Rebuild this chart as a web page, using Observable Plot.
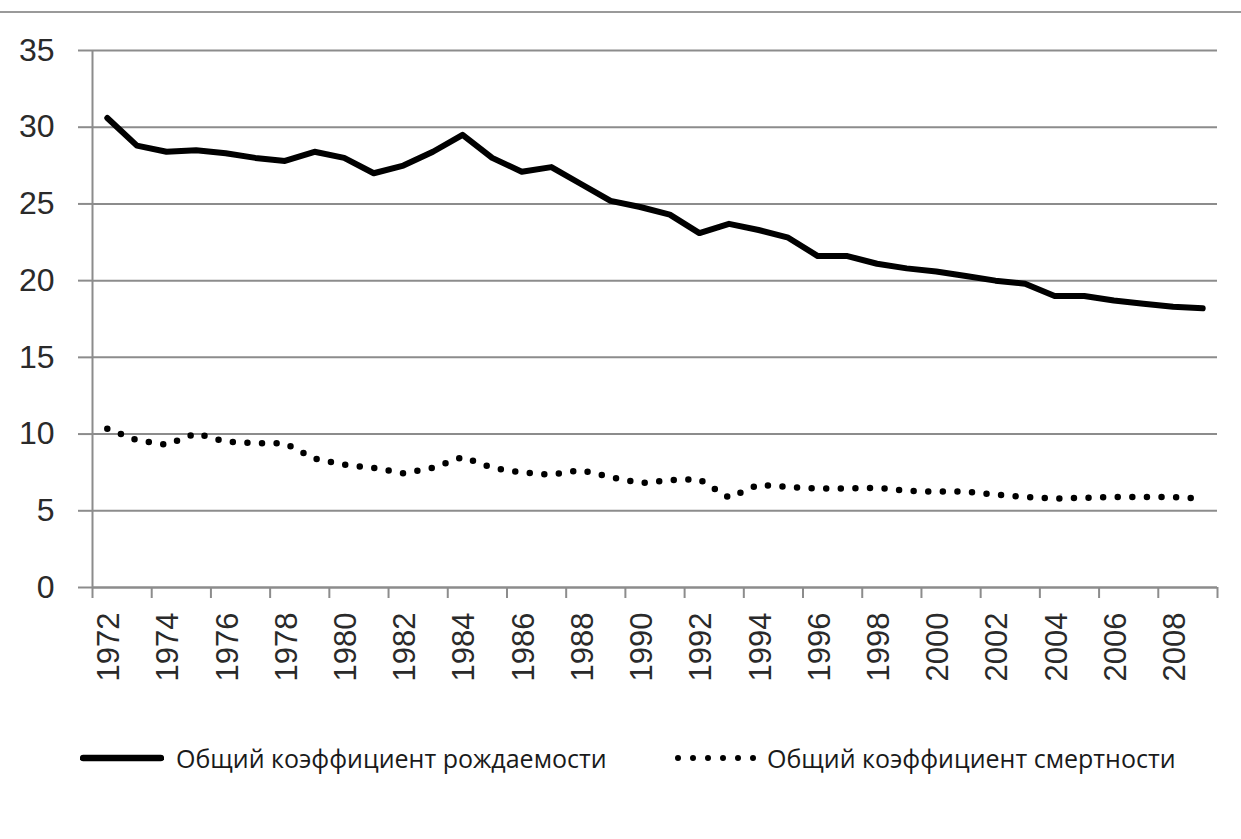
<!DOCTYPE html>
<html>
<head>
<meta charset="utf-8">
<script src="https://cdn.jsdelivr.net/npm/d3@7"></script>
<script src="https://cdn.jsdelivr.net/npm/@observablehq/plot@0.6"></script>
<style>
  html, body { margin: 0; padding: 0; background: #fff; }
  #frame { width: 1241px; height: 839px; position: relative; overflow: hidden; }
  #topline { position: absolute; left: 0; top: 11px; width: 1241px; height: 2px; background: #9a9a9a; }
  #chart { position: absolute; left: 0; top: 13px; }
  #legend { position: absolute; top: 742px; left: 0; width: 1241px; height: 32px;
            font-family: "Liberation Sans Narrow", "Open Sans", sans-serif; font-size: 25px; color: #1a1a1a; }
  .item { position: absolute; top: 0; height: 32px; display: flex; align-items: center; }
  .item svg { display: block; }
</style>
</head>
<body>
<div id="frame">
  <div id="topline"></div>
  <div id="chart"></div>
  <div id="legend"></div>
</div>
<script>
const years = [1972,1973,1974,1975,1976,1977,1978,1979,1980,1981,1982,1983,1984,1985,1986,1987,1988,1989,1990,
  1991,1992,1993,1994,1995,1996,1997,1998,1999,2000,2001,2002,2003,2004,2005,2006,2007,2008,2009];
const birthRate = [30.6,28.8,28.4,28.5,28.3,28.0,27.8,28.4,28.0,27.0,27.5,28.4,29.5,28.0,27.1,27.4,26.3,25.2,24.8,
  24.3,23.1,23.7,23.3,22.8,21.6,21.6,21.1,20.8,20.6,20.3,20.0,19.8,19.0,19.0,18.7,18.5,18.3,18.2];
const deathRate = [10.35,9.6,9.3,10.05,9.5,9.4,9.4,8.4,8.0,7.8,7.45,7.8,8.5,7.8,7.5,7.35,7.65,7.2,6.8,
  7.0,7.05,5.85,6.7,6.55,6.45,6.45,6.5,6.3,6.25,6.25,6.05,5.9,5.8,5.85,5.9,5.9,5.9,5.8];
const yTicks = [0,5,10,15,20,25,30,35];
const xLabelYears = [1972,1974,1976,1978,1980,1982,1984,1986,1988,1990,1992,1994,1996,1998,2000,2002,2004,2006,2008];
const seriesNames = ["Общий коэффициент рождаемости", "Общий коэффициент смертности"];

const birthData = years.map((y, i) => ({year: y, value: birthRate[i]}));
const deathData = years.map((y, i) => ({year: y, value: deathRate[i]}));
const xMin = years[0] - 0.5, xMax = years[years.length - 1] + 0.5;
const boundaries = d3.range(xMin, xMax + 0.01, 2);

const gray = "#8c8c8c";
const plot = Plot.plot({
  width: 1241,
  height: 687,
  marginTop: 37,
  marginBottom: 113,
  marginLeft: 92,
  marginRight: 24,
  style: {fontFamily: "Liberation Sans, Arial, sans-serif", background: "transparent"},
  x: {type: "linear", domain: [xMin, xMax]},
  y: {domain: [0, 35]},
  marks: [
    Plot.gridY(yTicks, {stroke: gray, strokeOpacity: 1, strokeWidth: 2}),
    Plot.axisY(yTicks, {tickSize: 14, tickPadding: 24, stroke: gray, strokeOpacity: 1, strokeWidth: 2,
      fontSize: 32, fill: "#2a2a2a", label: null}),
    Plot.axisX(boundaries, {tickSize: 11, stroke: gray, strokeOpacity: 1, strokeWidth: 2,
      tickFormat: () => "", label: null}),
    Plot.axisX(xLabelYears, {tickSize: 0, tickPadding: 25, tickRotate: -90, fontSize: 31, fill: "#2a2a2a",
      dx: 2, tickFormat: d => String(d), label: null}),
    Plot.ruleX([xMin], {stroke: gray, strokeWidth: 2}),
    Plot.ruleY([0], {stroke: gray, strokeWidth: 2}),
    Plot.line(birthData, {x: "year", y: "value", stroke: "#000", strokeWidth: 6,
      strokeLinejoin: "round", strokeLinecap: "round"}),
    Plot.line(deathData, {x: "year", y: "value", stroke: "#000", strokeWidth: 6.5,
      strokeDasharray: "0,14.6", strokeLinecap: "round"})
  ]
});
document.getElementById("chart").appendChild(plot);

const legend = document.getElementById("legend");
legend.innerHTML = `
  <div class="item" style="left:80px">
    <svg width="84" height="32"><line x1="3" y1="16" x2="81" y2="16" stroke="#000" stroke-width="6.5" stroke-linecap="round"/></svg>
    <span style="margin-left:12px">${seriesNames[0]}</span>
  </div>
  <div class="item" style="left:674px">
    <svg width="84" height="32"><line x1="4" y1="16" x2="80" y2="16" stroke="#000" stroke-width="6" stroke-linecap="round" stroke-dasharray="0,15"/></svg>
    <span style="margin-left:9px">${seriesNames[1]}</span>
  </div>`;
</script>
</body>
</html>
